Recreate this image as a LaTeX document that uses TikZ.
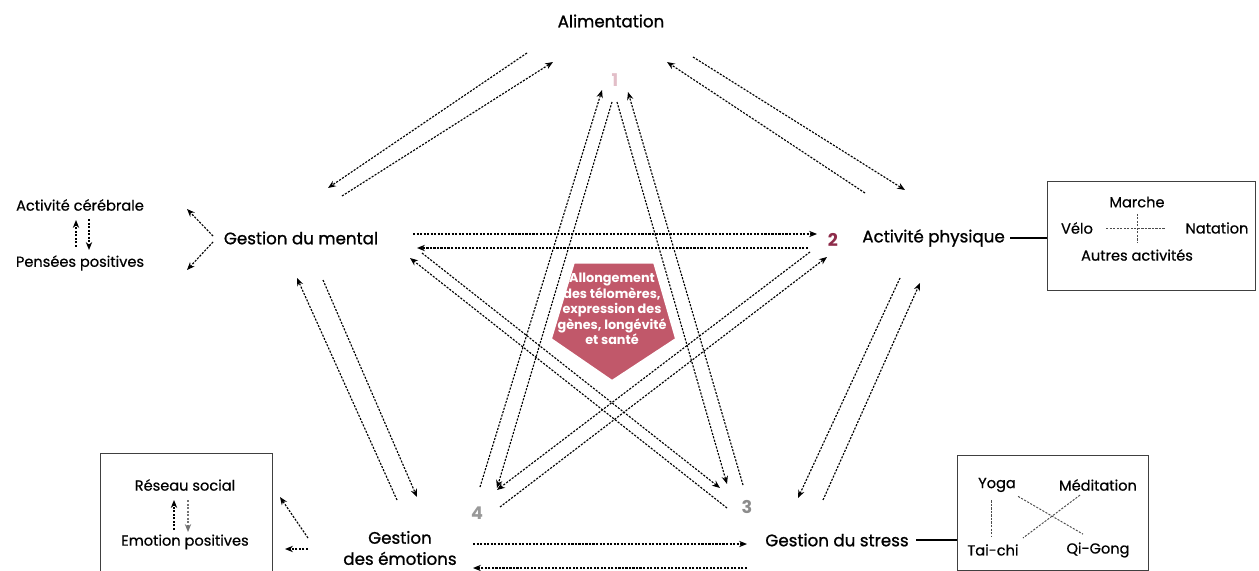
\documentclass[tikz,border=0pt]{standalone}
\usepackage{fontspec}
\setmainfont{Poppins}
\newfontfamily\medfont{Poppins}[FakeBold=1.1]
\newfontfamily\subfont{Poppins}[FakeBold=0.6]
\usetikzlibrary{arrows.meta,calc}
\definecolor{rose}{RGB}{193,88,106}
\definecolor{maroon}{RGB}{142,44,74}
\definecolor{pale}{RGB}{226,190,200}
\tikzset{
	lbl/.style={font=\medfont\fontsize{9.5}{12}\selectfont, inner sep=0pt},
	sub/.style={font=\subfont\fontsize{8.3}{10}\selectfont, inner sep=0pt},
	num/.style={font=\fontsize{10}{12}\selectfont\bfseries, inner sep=0pt},
	arr/.style={-{Stealth[length=4.5pt,width=3.6pt]}, dash pattern=on 1.2pt off 0.8pt, line width=0.65pt},
	link/.style={dash pattern=on 1.2pt off 0.8pt, line width=0.55pt, black!70},
	framebox/.style={draw=black!75, line width=0.8pt, anchor=north west}
}
\begin{document}
\begin{tikzpicture}[x=0.02cm,y=-0.02cm]
	\useasboundingbox (0,0) rectangle (1259,571);

	% main labels
	\node[lbl] (alim) at (611,21) {Alimentation};
	\node[lbl] (mental) at (301,238) {Gestion du mental};
	\node[lbl, anchor=west] (phys) at (862,238) {Activité physique};
	\node[lbl] (stress) at (837,540) {Gestion du stress};
	\node[lbl, align=center] (emo) at (400,548) {Gestion\\des émotions};

	\node[num, text=pale] (n1) at (615,80) {1};
	\node[num, text=maroon] (n2) at (833,240) {2};
	\node[num, text=black!45] (n3) at (747,507) {3};
	\node[num, text=black!40] (n4) at (477,513) {4};

	% boxes
	\node[framebox, minimum width=4.16cm, minimum height=2.18cm] (pbox) at (1047,181) {};
	\node[framebox, minimum width=3.82cm, minimum height=2.30cm] (sbox) at (957,455) {};
	\node[framebox, minimum width=3.44cm, minimum height=2.36cm] (ebox) at (100,453) {};
	\draw[line width=0.8pt] ([xshift=3pt]phys.east) -- (phys.east -| pbox.west);
	\draw[line width=0.8pt] ([xshift=4pt]stress.east) -- (stress.east -| sbox.west);

	\node[sub] (cereb) at (80,205) {Activité cérébrale};
	\node[sub] (pens) at (80,263) {Pensées positives};
	\node[sub] (marche) at (1137,202) {Marche};
	\node[sub] (velo) at (1077,228) {Vélo};
	\node[sub] (natation) at (1217,228) {Natation};
	\node[sub] (autres) at (1137,255) {Autres activités};
	\node[sub] (yoga) at (997,485) {Yoga};
	\node[sub] (medit) at (1098,485) {Méditation};
	\node[sub] (taichi) at (993,550) {Tai-chi};
	\node[sub] (qigong) at (1098,550) {Qi-Gong};
	\node[sub] (reseau) at (185,485) {Réseau social};
	\node[sub] (emopos) at (185,542) {Emotion positives};

	% links inside the boxes
	\draw[link] ($(velo.east)+(13,0)$) -- ($(natation.west)+(-20,0)$);
	\draw[link] ($(marche.south)+(0,6)$) -- ($(autres.north)+(0,-6)$);
	\draw[link] ($(yoga.south)+(-6,8)$) -- ($(taichi.north)+(-2,-8)$);
	\draw[link] ($(yoga.south east)+(2,4)$) -- ($(qigong.north)+(-15,-8)$);
	\draw[link] ($(medit.south)+(-18,4)$) -- ($(taichi.north east)+(4,-6)$);

	% arrow ends
	\foreach \n/\p in {am1/{527,53}, am2/{328,188}, ma1/{342,196}, ma2/{553,62},
		ap1/{693,57}, ap2/{905,190}, pa1/{865,193}, pa2/{667,62},
		ps1/{900,278}, ps2/{798,498}, sp1/{823,500}, sp2/{920,283},
		es1/{473,544}, es2/{747,544}, se1/{747,568}, se2/{473,568},
		em1/{397,500}, em2/{297,278}, me1/{323,280}, me2/{417,497},
		oa/{612,102}, ob/{497,488}, fa/{480,487}, fb/{602,90},
		ta/{617,102}, tb/{727,484}, ra/{743,485}, rb/{628,92},
		xa/{422,253}, xb/{720,488}, ya/{727,508}, yb/{410,258},
		ua/{500,507}, ub/{827,257}, va/{810,252}, vb/{497,490},
		ha/{413,234}, hb/{817,234}, ka/{808,248}, kb/{417,248},
		mc1/{213,236}, mc2/{187,209}, mp1/{213,242}, mp2/{187,270},
		cp1/{76,247}, cp2/{76,220}, pc1/{89,219}, pc2/{89,250},
		er1/{308,538}, er2/{280,497}, eo1/{308,549}, eo2/{285,549},
		rs1/{174,530}, rs2/{174,500}, sr1/{188,500}, sr2/{188,532}}
		\coordinate (\n) at (\p);

	\foreach \a/\b in {am1/am2, ma1/ma2, ap1/ap2, pa1/pa2, ps1/ps2, sp1/sp2,
		es1/es2, se1/se2, em1/em2, me1/me2, oa/ob, fa/fb, ta/tb, ra/rb,
		xa/xb, ya/yb, ua/ub, va/vb, ha/hb, ka/kb,
		mc1/mc2, mp1/mp2, cp1/cp2, pc1/pc2, er1/er2, eo1/eo2, rs1/rs2}
		\draw[arr] (\a) -- (\b);
	\draw[arr, black!55] (sr1) -- (sr2);

	% core
	\filldraw[fill=rose, draw=white, line width=4pt] (572,260) -- (656,260) -- (679,340) -- (612,384) -- (548,340) -- cycle;
	\node[font=\fontsize{7.3}{8.8}\selectfont\bfseries, text=white, align=center, inner sep=0pt] (core) at (612,309)
		{Allongement\\des télomères,\\expression des\\gènes, longévité\\et santé};
\end{tikzpicture}
\end{document}
